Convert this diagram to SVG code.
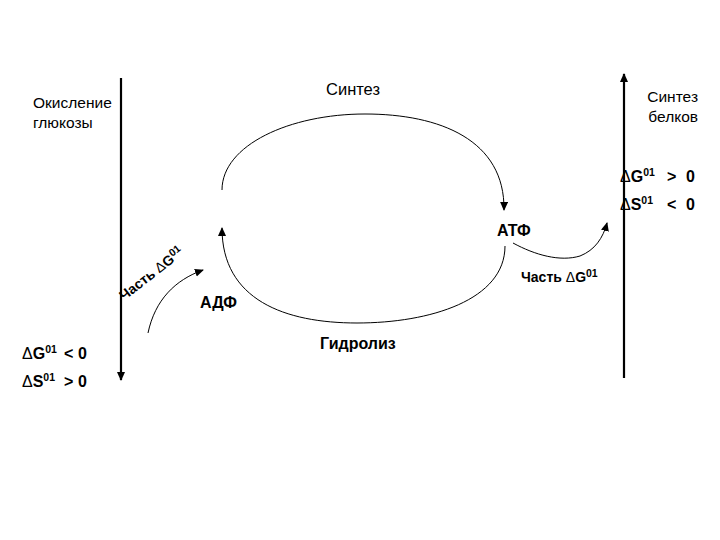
<svg xmlns="http://www.w3.org/2000/svg" width="720" height="540" viewBox="0 0 720 540">
<defs>
<marker id="ah" markerWidth="10" markerHeight="10" refX="8" refY="4" orient="auto" markerUnits="userSpaceOnUse">
<path d="M0,0 L9,4 L0,8 Z" fill="#000"/>
</marker>
<style>
text{font-family:"Liberation Sans",Arial,sans-serif;fill:#000}
.r{font-size:15.5px}
.r2{font-size:16.5px}
.b{font-size:16px;font-weight:bold}
.s{font-size:14px;font-weight:bold}
.sup{font-size:10.5px;font-weight:bold}
.d{font-weight:normal}
.thick{stroke:#000;stroke-width:2.2;fill:none}
.thin{stroke:#000;stroke-width:1;fill:none}
</style>
</defs>
<rect width="720" height="540" fill="#fff"/>
<g id="connectors">
<path class="thick" d="M121,78 L121,380" marker-end="url(#ah)"/>
<path class="thick" d="M624,378 L624,74" marker-end="url(#ah)"/>
<path class="thin" d="M222,190 C222,145 290,114 365,114 C440,114 505,140 504,210" marker-end="url(#ah)"/>
<path class="thin" d="M505,246 C505,300 430,323 357,323 C285,323 222,300 222,228" marker-end="url(#ah)"/>
<path class="thin" d="M148,333 C155,300 175,280 203,270" marker-end="url(#ah)"/>
<path class="thin" d="M513,243 C535,255 560,262 580,256 C595,250 603,238 607,223" marker-end="url(#ah)"/>
</g>
<g id="oxidation"><text class="r" x="33" y="108">Окисление</text><text class="r" x="33" y="128">глюкозы</text></g>
<g id="synthesis"><text class="r2" x="326" y="95">Синтез</text></g>
<g id="protein-synthesis"><text class="r" x="698" y="102" text-anchor="end">Синтез</text><text class="r" x="698" y="122" text-anchor="end">белков</text></g>
<g id="dg-pos"><text class="b" x="620" y="182"><tspan class="d">Δ</tspan>G<tspan class="sup" dy="-6">01</tspan><tspan x="667" dy="6">&gt;</tspan><tspan x="686">0</tspan></text></g>
<g id="ds-neg"><text class="b" x="620" y="210"><tspan class="d">Δ</tspan>S<tspan class="sup" dy="-6">01</tspan><tspan x="667" dy="6">&lt;</tspan><tspan x="686">0</tspan></text></g>
<g id="atp"><text class="b" x="497" y="236">АТФ</text></g>
<g id="part-right"><text class="s" x="521" y="282">Часть <tspan class="d">Δ</tspan>G<tspan class="sup" dy="-5">01</tspan></text></g>
<g id="adp"><text class="b" x="200" y="308">АДФ</text></g>
<g id="hydrolysis"><text class="b" x="320" y="349">Гидролиз</text></g>
<g id="part-left"><text class="s" transform="translate(124,301) rotate(-38)">Часть <tspan class="d">Δ</tspan>G<tspan class="sup" dy="-5">01</tspan></text></g>
<g id="dg-neg"><text class="b" x="22" y="359"><tspan class="d">Δ</tspan>G<tspan class="sup" dy="-6">01</tspan><tspan x="64" dy="6">&lt;</tspan><tspan x="78">0</tspan></text></g>
<g id="ds-pos"><text class="b" x="22" y="387"><tspan class="d">Δ</tspan>S<tspan class="sup" dy="-6">01</tspan><tspan x="64" dy="6">&gt;</tspan><tspan x="78">0</tspan></text></g>
</svg>
